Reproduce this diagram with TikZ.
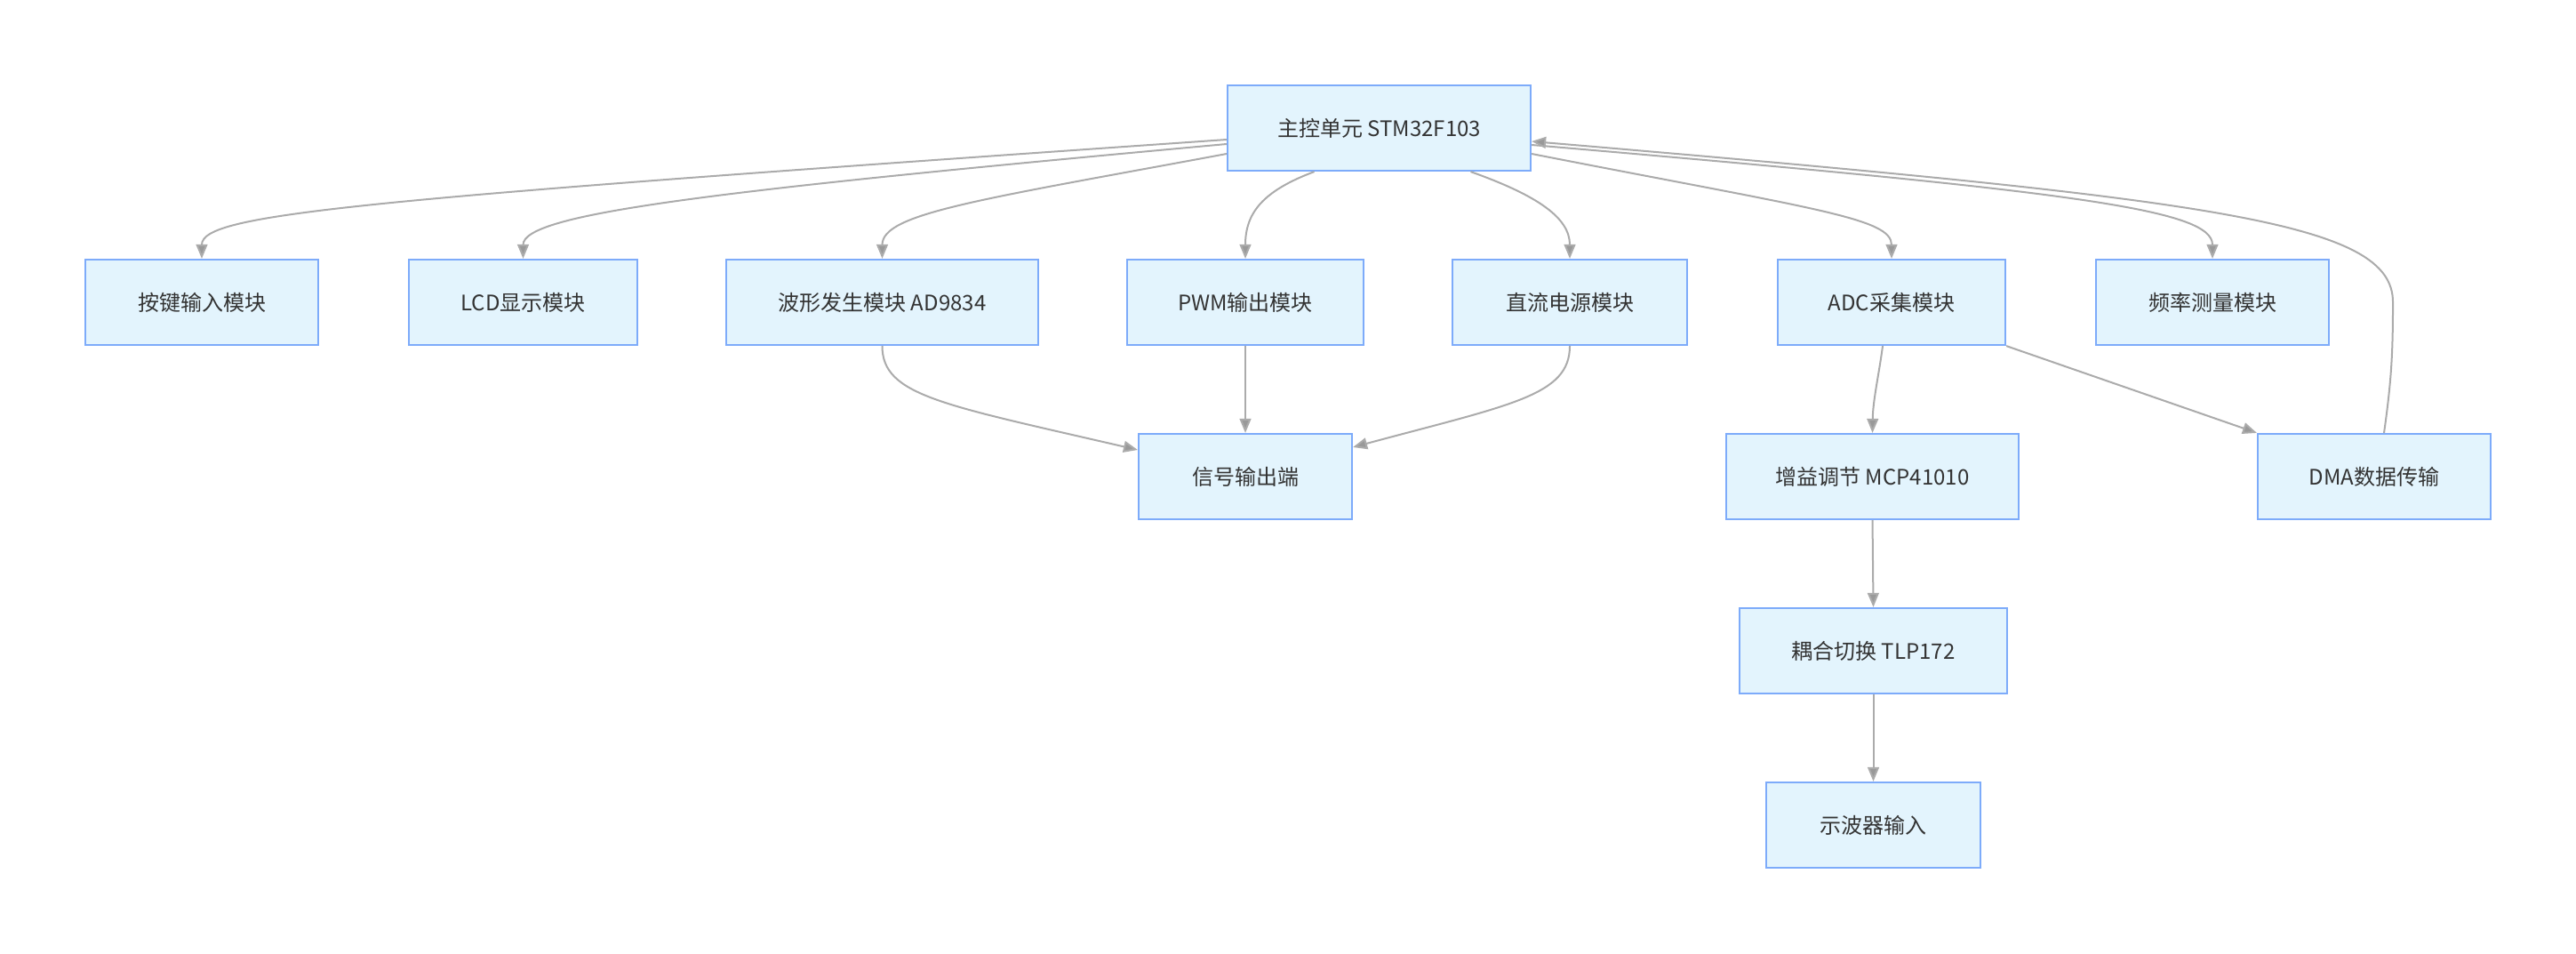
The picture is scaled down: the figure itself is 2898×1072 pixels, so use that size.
\documentclass[tikz,border=0pt]{standalone}
\usepackage{fontspec}
\setmainfont{Noto Sans CJK SC}
\usetikzlibrary{arrows.meta}
\definecolor{nodefill}{HTML}{E3F4FD}
\definecolor{nodeline}{HTML}{7DABFA}
\definecolor{edgeline}{HTML}{ABABAB}
\definecolor{tipfill}{HTML}{999999}
\definecolor{txt}{HTML}{333333}
\begin{document}
\begin{tikzpicture}[x=0.25pt,y=-0.25pt,
  box/.style={draw=nodeline,fill=nodefill,line width=0.55pt,minimum height=24pt,inner sep=0pt,text=txt,font=\fontsize{6pt}{7pt}\selectfont},
  conn/.style={draw=edgeline,line width=0.5pt,-{Triangle[length=4pt,width=3.2pt,fill=tipfill]}}]
\useasboundingbox[fill=white] (0,0) rectangle (2898,1072);
\node[box,minimum width=85.25pt] (main) at (1551.5,144) {主控单元 STM32F103};
\node[box,minimum width=65.5pt] (k1) at (227,340) {按键输入模块};
\node[box,minimum width=64.25pt] (lcd) at (588.5,340) {LCD显示模块};
\node[box,minimum width=87.75pt] (wave) at (992.5,340) {波形发生模块 AD9834};
\node[box,minimum width=66.5pt] (pwm) at (1401,340) {PWM输出模块};
\node[box,minimum width=66pt] (dc) at (1766,340) {直流电源模块};
\node[box,minimum width=64pt] (adc) at (2128,340) {ADC采集模块};
\node[box,minimum width=65.5pt] (freq) at (2489,340) {频率测量模块};
\node[box,minimum width=60pt] (sig) at (1401,536) {信号输出端};
\node[box,minimum width=82.25pt] (gain) at (2106.5,536) {增益调节 MCP41010};
\node[box,minimum width=65.5pt] (dma) at (2671,536) {DMA数据传输};
\node[box,minimum width=75.25pt] (tlp) at (2107.5,732) {耦合切换 TLP172};
\node[box,minimum width=60.25pt] (osc) at (2107.5,928) {示波器输入};

\draw[conn] ([yshift=-3.25pt]main.west) .. controls (400,225) and (227,240) .. (k1.north);
\draw[conn] ([yshift=-4.5pt]main.west) .. controls (800,215) and (588.5,240) .. (lcd.north);
\draw[conn] ([yshift=-7.25pt]main.west) .. controls (1100,225) and (992.5,240) .. (wave.north);
\draw[conn] ([xshift=-18.25pt]main.south) .. controls (1420,215) and (1401,240) .. (pwm.north);
\draw[conn] ([xshift=25.75pt]main.south) .. controls (1730,220) and (1766,245) .. (dc.north);
\draw[conn] ([yshift=-7.25pt]main.east) .. controls (2040,235) and (2128,245) .. (adc.north);
\draw[conn] ([yshift=-4.75pt]main.east) .. controls (2330,215) and (2489,235) .. (freq.north);
\draw[conn] ([xshift=2.75pt]dma.north) .. controls (2690,430) and (2692,400) .. (2692,340) .. controls (2692,250) and (2500,225) .. ([yshift=-3.75pt]main.east);
\draw[conn] (wave.south) .. controls (992.5,445) and (1060,455) .. ([yshift=7.5pt]sig.west);
\draw[conn] (pwm.south) -- (sig.north);
\draw[conn] (dc.south) .. controls (1766,445) and (1700,455) .. ([yshift=8.25pt]sig.east);
\draw[conn] ([xshift=-2.5pt]adc.south) .. controls (2114,420) and (2107,450) .. (gain.north);
\draw[conn] (adc.south east) -- (dma.north west);
\draw[conn] (gain.south) -- (tlp.north);
\draw[conn] (tlp.south) -- (osc.north);
\end{tikzpicture}
\end{document}
